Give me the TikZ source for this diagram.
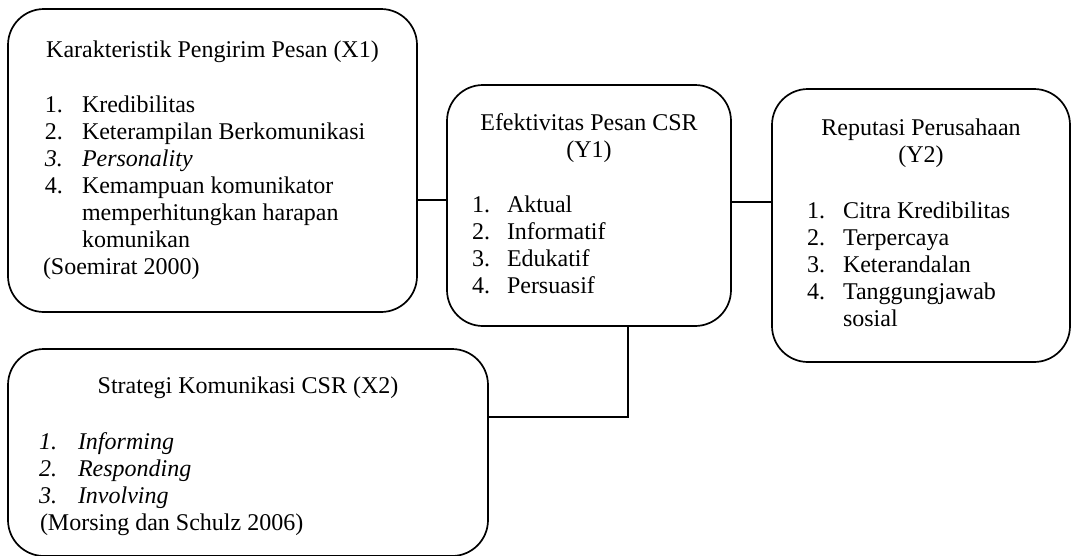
\documentclass[tikz,border=0pt]{standalone}
\usepackage{fontspec}
\setmainfont{Liberation Serif}
\begin{document}
\begin{tikzpicture}[x=1pt,y=-1pt,
  box/.style={draw=black,line width=1.7pt,rounded corners=36pt,rectangle,inner sep=0pt},
  conn/.style={draw=black,line width=1.7pt},
  txt/.style={inner sep=0pt,outer sep=0pt,font=\fontsize{24}{27}\selectfont},
  tl/.style={txt,anchor=base},
  it/.style={txt,anchor=base west}]
\useasboundingbox (0,0) rectangle (1072,555);
% boxes
\node[box,minimum width=409pt,minimum height=303pt] (x1) at (212.5,160.5) {};
\node[box,minimum width=284pt,minimum height=241pt] (y1) at (589,205.5) {};
\node[box,minimum width=298pt,minimum height=273pt] (y2) at (921,225.5) {};
\node[box,minimum width=480pt,minimum height=207pt] (x2) at (248,452.5) {};
% X1 text
\node[tl] (x1t) at (212.5,57) {Karakteristik Pengirim Pesan (X1)};
\node[it] (x1n1) at (45,112) {1.};
\node[it] (x1i1) at (82,112) {Kredibilitas};
\node[it] (x1n2) at (45,139) {2.};
\node[it] (x1i2) at (82,139) {Keterampilan Berkomunikasi};
\node[it] (x1n3) at (45,166) {\itshape 3.};
\node[it] (x1i3) at (82,166) {\itshape Personality};
\node[it] (x1n4) at (45,193) {4.};
\node[it] (x1i4) at (82,193) {Kemampuan komunikator};
\node[it] (x1i4b) at (82,220) {memperhitungkan harapan};
\node[it] (x1i4c) at (82,247) {komunikan};
\node[it] (x1s) at (43,274) {(Soemirat 2000)};
% Y1 text
\node[tl] (y1t) at (589,130) {Efektivitas Pesan CSR};
\node[tl] (y1t2) at (589,157) {(Y1)};
\node[it] (y1n1) at (472,212) {1.};
\node[it] (y1i1) at (507,212) {Aktual};
\node[it] (y1n2) at (472,239) {2.};
\node[it] (y1i2) at (507,239) {Informatif};
\node[it] (y1n3) at (472,266) {3.};
\node[it] (y1i3) at (507,266) {Edukatif};
\node[it] (y1n4) at (472,293) {4.};
\node[it] (y1i4) at (507,293) {Persuasif};
% Y2 text
\node[tl] (y2t) at (921,135) {Reputasi Perusahaan};
\node[tl] (y2t2) at (921,162) {(Y2)};
\node[it] (y2n1) at (807,218) {1.};
\node[it] (y2i1) at (843,218) {Citra Kredibilitas};
\node[it] (y2n2) at (807,245) {2.};
\node[it] (y2i2) at (843,245) {Terpercaya};
\node[it] (y2n3) at (807,272) {3.};
\node[it] (y2i3) at (843,272) {Keterandalan};
\node[it] (y2n4) at (807,299) {4.};
\node[it] (y2i4) at (843,299) {Tanggungjawab};
\node[it] (y2i4b) at (843,326) {sosial};
% X2 text
\node[tl] (x2t) at (248,393) {Strategi Komunikasi CSR (X2)};
\node[it] (x2n1) at (39,449) {\itshape 1.};
\node[it] (x2i1) at (78,449) {\itshape Informing};
\node[it] (x2n2) at (39,476) {\itshape 2.};
\node[it] (x2i2) at (78,476) {\itshape Responding};
\node[it] (x2n3) at (39,503) {\itshape 3.};
\node[it] (x2i3) at (78,503) {\itshape Involving};
\node[it] (x2s) at (40,530) {(Morsing dan Schulz 2006)};
% connectors
\coordinate (h1) at (0,200);
\coordinate (h2) at (0,202);
\coordinate (v3) at (628,0);
\coordinate (h4) at (0,417);
\draw[conn] (x1.east |- h1) -- (y1.west |- h1);
\draw[conn] (y1.east |- h2) -- (y2.west |- h2);
\draw[conn] (y1.south -| v3) |- (x2.east |- h4);
\end{tikzpicture}
\end{document}
